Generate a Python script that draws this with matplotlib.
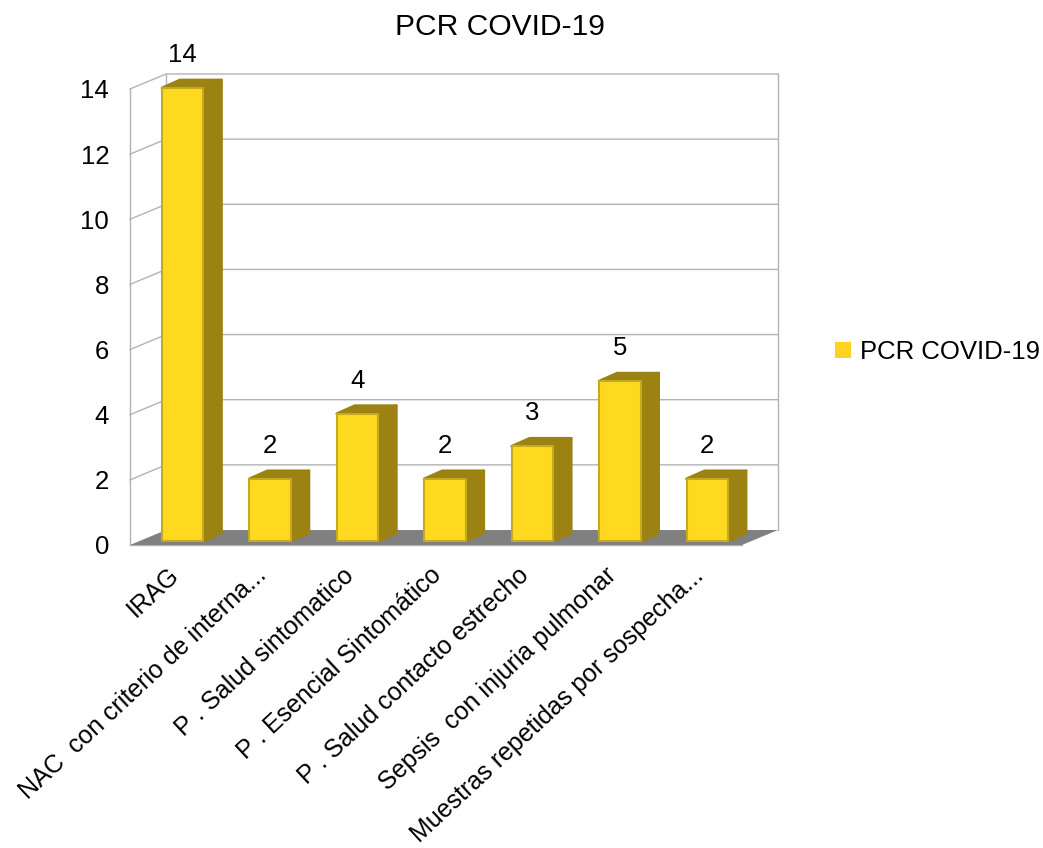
import numpy as np
import matplotlib
matplotlib.use("Agg")
import matplotlib.pyplot as plt
from matplotlib.patches import Polygon
from matplotlib.transforms import ScaledTranslation

plt.rcParams['font.family'] = ['Liberation Sans', 'DejaVu Sans']

categories = ["IRAG", "NAC  con criterio de interna...", "P . Salud sintomatico",
              "P . Esencial Sintomático", "P . Salud contacto estrecho",
              "Sepsis  con injuria pulmonar", "Muestras repetidas por sospecha..."]
values = [14, 2, 4, 2, 3, 5, 2]
yticks = [0, 2, 4, 6, 8, 10, 12, 14]

W, H = 1043, 848
fig = plt.figure(figsize=(W / 100, H / 100), dpi=100)
ax = fig.add_axes([130 / W, (H - 545) / H, 612 / W, 456 / H])
ax.set_xlim(0, len(values))
ax.set_ylim(0, 14)

# fake 3d: offset of the back wall, in data units
px_x = len(values) / 612
px_y = 14 / 456
dx = 36 * px_x
dy = 15 * px_y

for s in ['top', 'right']:
  ax.spines[s].set_visible(False)
for s in ['left', 'bottom']:
  ax.spines[s].set_color('#b3b3b3')
  ax.spines[s].set_linewidth(1.0)
  ax.spines[s].set_zorder(1)

wall = '#b3b3b3'
n = len(values)

def add_poly(pts, **kw):
  ax.add_patch(Polygon(pts, closed=True, clip_on=False, **kw))

# floor
add_poly([(0, 0), (n, 0), (n + dx, dy), (dx, dy)], facecolor='#808080', edgecolor='none', zorder=2)

# walls and grid
for t in yticks:
  if t > 0:
    ax.plot([0, dx, n + dx], [t, t + dy, t + dy], color=wall, lw=1.0, clip_on=False, zorder=1)
ax.plot([dx, dx], [dy, 14 + dy], color=wall, lw=1.0, clip_on=False, zorder=1)
ax.plot([n + dx, n + dx], [dy, 14 + dy], color=wall, lw=1.0, clip_on=False, zorder=1)

# bars
bw = 41.5 * px_x
ox, oy = 9 * px_x, 4 * px_y       # where the bar front sits on the floor
bx, by = 18 * px_x, 8 * px_y      # depth of the bar
front = '#ffd91f'
side = '#9c8212'
edge = '#c4aa20'
xpos = np.arange(n) + 0.5

for i, v in enumerate(values):
  l = xpos[i] + ox - bw / 2
  r = l + bw
  b = oy
  t = oy + v - 3 * px_y
  add_poly([(r, b), (r + bx, b + by), (r + bx, t + by), (r, t)],
           facecolor=side, edgecolor=side, lw=2, joinstyle='round', zorder=3)
  add_poly([(l, t), (l + bx, t + by), (r + bx, t + by), (r, t)],
           facecolor=side, edgecolor=side, lw=2, joinstyle='round', zorder=3)

ax.bar(xpos + ox, [v - 3 * px_y for v in values], bw, bottom=oy, color=front, edgecolor=edge,
       linewidth=1.5, joinstyle='round', clip_on=False, zorder=4, label='_nolegend_')

for i, v in enumerate(values):
  ax.annotate(str(v), (xpos[i] + ox, v), xytext=(0, 24.5), textcoords='offset points',
              ha='center', va='center', fontsize=18.5, color='black', annotation_clip=False)

ax.set_yticks(yticks)
ax.set_xticks(xpos)
ax.set_xticklabels(categories, rotation=43, ha='right', va='top', rotation_mode='anchor')
ax.tick_params(axis='y', length=0, pad=15, labelsize=18.5)
ax.tick_params(axis='x', length=0, pad=13, labelsize=18)

# category labels sit a bit left of the slot centre
shift = ScaledTranslation(-6 / 100, 0, fig.dpi_scale_trans)
for lab in ax.get_xticklabels():
  lab.set_transform(lab.get_transform() + shift)

fig.text(500 / W, 1 - 27 / H, "PCR COVID-19", ha='center', va='center', fontsize=21.6)

# legend
handle = plt.Rectangle((0, 0), 1, 1, facecolor='#ffd320', edgecolor='none')
fig.legend([handle], ["PCR COVID-19"], loc='center left', bbox_to_anchor=(812 / W, 1 - 352 / H),
           frameon=False, fontsize=18.5, handlelength=0.62, handleheight=0.62, handletextpad=0.35)

fig.savefig('out.png', dpi=100)
